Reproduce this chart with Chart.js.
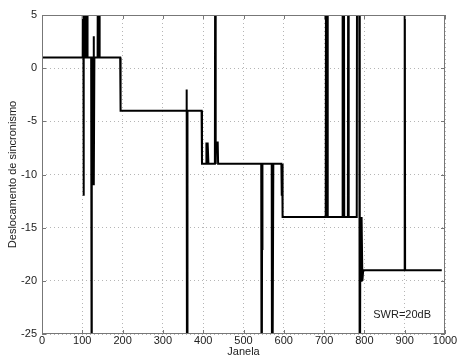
<!DOCTYPE html>
<html>
<head>
<meta charset="utf-8">
<script src="https://cdn.jsdelivr.net/npm/chart.js@4"></script>
<style>
  html, body { margin: 0; padding: 0; background: #fff; }
  #wrap { width: 459px; height: 360px; }
</style>
</head>
<body>
<div id="wrap"><canvas id="grafico"></canvas></div>
<script>
// janela (x) e deslocamento de sincronismo (y), pontos onde o valor muda
let janela = [0, 101, 102, 103, 104, 106, 107, 110, 111, 112, 113, 122, 123, 124, 127, 128, 129, 130,
    138, 139, 142, 143, 194, 195, 358, 359, 360, 361, 396, 397, 407, 408, 410, 411, 413, 429, 430,
    431, 432, 436, 437, 544, 545, 546, 547, 570, 571, 573, 574, 594, 595, 596, 597, 704, 705, 708,
    709, 745, 746, 749, 750, 759, 760, 761, 781, 782, 787, 788, 789, 790, 792, 793, 795, 797, 899,
    900, 901, 992];
let deslocamento = [1, 1, 20, -12, 20, 20, 1, 1, 20, 20, 1, 1, -40, 1, 1, 3, -11, 1,
    1, 20, 20, 1, 1, -4, -4, -2, -40, -4, -4, -9, -9, -7, -9, -7, -9, -9, 20,
    -9, -7, -7, -9, -9, -40, -17, -9, -9, -40, -40, -9, -9, -12, -9, -14, -14, 20, 20,
    -14, -14, 20, 20, -14, -14, 20, -14, -14, 20, 20, -14, -40, -14, -20, -14, -20, -19, -19,
    20, -19, -19];

let ticksX = [0, 100, 200, 300, 400, 500, 600, 700, 800, 900, 1000];
let ticksY = [5, 0, -5, -10, -15, -20, -25];

let fonte = 'Liberation Sans, Arial, sans-serif';

// caixa do grafico, marcas de escala e texto SWR
const caixa = {
    id: 'caixa',
    afterDatasetsDraw(chart) {
        const ctx = chart.ctx;
        const a = chart.chartArea;
        const x = chart.scales.x, y = chart.scales.y;
        ctx.save();
        ctx.strokeStyle = '#777';
        ctx.lineWidth = 1;
        ctx.strokeRect(a.left + 0.5, a.top + 0.5, a.right - a.left - 1, a.bottom - a.top - 1);
        ctx.beginPath();
        ticksX.forEach(v => {
            const px = Math.round(x.getPixelForValue(v)) + 0.5;
            ctx.moveTo(px, a.bottom); ctx.lineTo(px, a.bottom - 4);
            ctx.moveTo(px, a.top); ctx.lineTo(px, a.top + 4);
        });
        ticksY.forEach(v => {
            const py = Math.round(y.getPixelForValue(v)) + 0.5;
            ctx.moveTo(a.left, py); ctx.lineTo(a.left + 4, py);
            ctx.moveTo(a.right, py); ctx.lineTo(a.right - 4, py);
        });
        ctx.stroke();
        ctx.fillStyle = '#222';
        ctx.font = '11px ' + fonte;
        ctx.textBaseline = 'middle';
        ctx.fillText('SWR=20dB', x.getPixelForValue(822), y.getPixelForValue(-23.2));
        ctx.restore();
    }
};

new Chart(document.getElementById('grafico'), {
    type: 'line',
    data: {
        datasets: [{
            data: janela.map((j, i) => ({ x: j, y: deslocamento[i] })),
            borderColor: '#000',
            borderWidth: 2,
            pointRadius: 0,
            tension: 0,
            clip: 0
        }]
    },
    options: {
        responsive: true,
        maintainAspectRatio: false,
        animation: false,
        layout: { padding: { left: 0, right: 14, top: 15, bottom: 0 } },
        plugins: { legend: { display: false }, tooltip: { enabled: false } },
        scales: {
            x: {
                type: 'linear',
                min: 0, max: 1000,
                afterFit: s => { s.height = 26; },
                afterBuildTicks: s => { s.ticks = ticksX.map(v => ({ value: v })); },
                ticks: { color: '#222', font: { family: fonte, size: 11 }, padding: 0, maxRotation: 0,
                    callback: v => String(v) },
                grid: { color: '#b5b5b5', drawTicks: false },
                border: { display: false, dash: [1, 3] },
                title: { display: true, text: 'Janela', color: '#222', font: { family: fonte, size: 11 }, padding: { top: 0, bottom: 1 } }
            },
            y: {
                min: -25, max: 5,
                afterFit: s => { s.width = 42; },
                afterBuildTicks: s => { s.ticks = ticksY.map(v => ({ value: v })); },
                ticks: { color: '#222', font: { family: fonte, size: 11 }, padding: 5,
                    callback: v => String(v) },
                grid: { color: '#b5b5b5', drawTicks: false },
                border: { display: false, dash: [1, 3] },
                title: { display: true, text: 'Deslocamento de sincronismo', color: '#222', font: { family: fonte, size: 11 }, padding: { top: 6, bottom: 0 } }
            }
        }
    },
    plugins: [caixa]
});
</script>
</body>
</html>
